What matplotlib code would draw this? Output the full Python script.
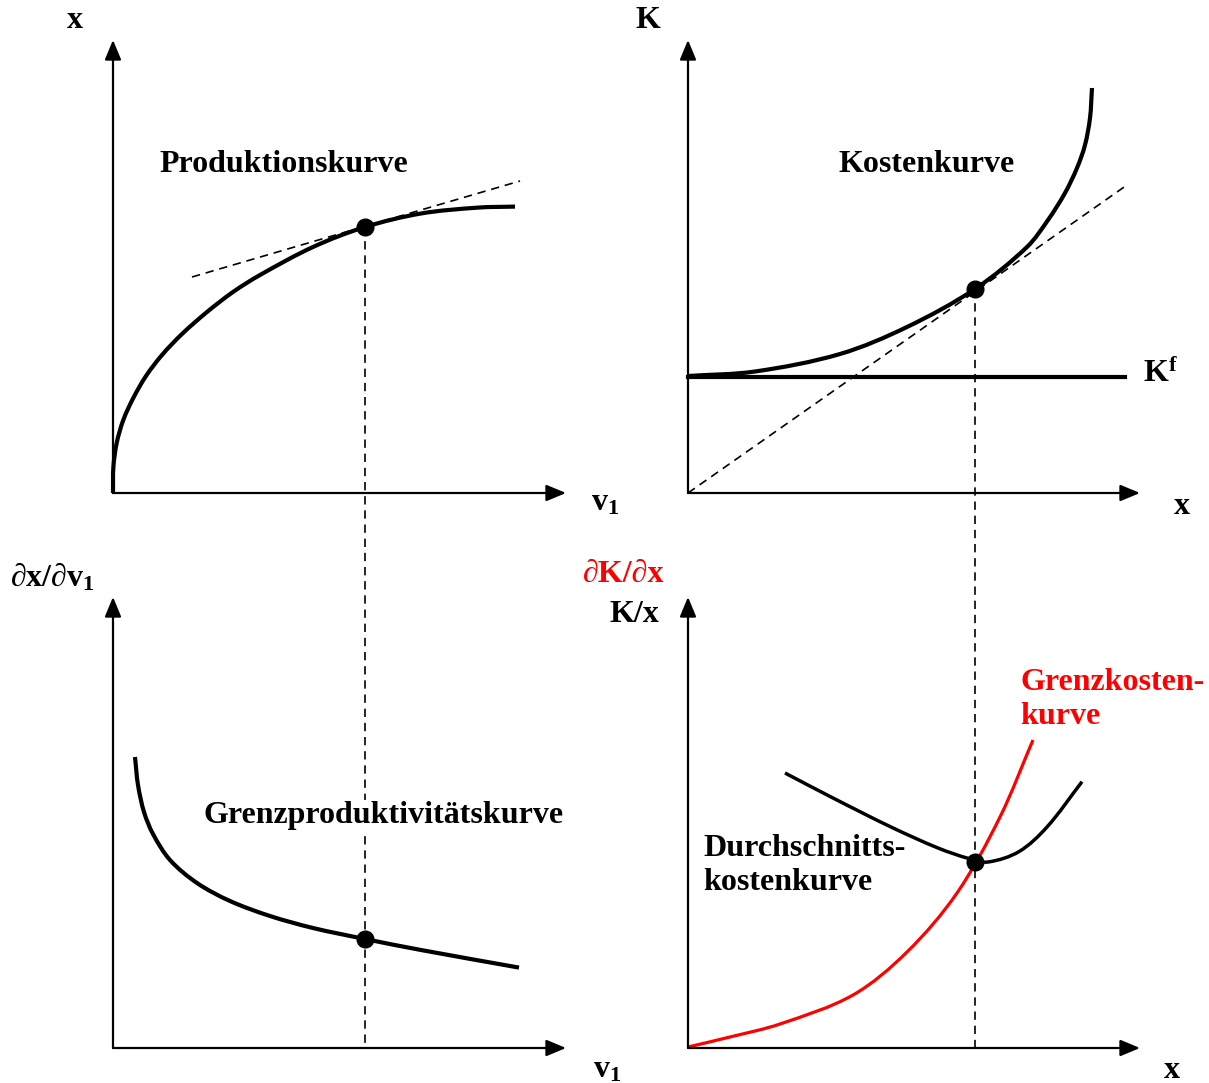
import matplotlib.pyplot as plt
from matplotlib.path import Path
from matplotlib.patches import PathPatch

plt.rcParams['font.family'] = ['Liberation Serif', 'DejaVu Serif']
plt.rcParams['mathtext.fontset'] = 'custom'
plt.rcParams['mathtext.rm'] = 'Liberation Serif:bold'
plt.rcParams['mathtext.it'] = 'Liberation Serif:bold'
plt.rcParams['mathtext.bf'] = 'Liberation Serif:bold'

# values (pixel units of the 1209x1083 sheet)
# top left: Produktionskurve
prod_x = [113, 113.4, 116.7, 123.3, 133.3, 146, 162, 182, 207, 233, 260, 313, 365, 421, 478, 515]
prod_y = [493, 467, 443, 420, 398, 376, 355, 334, 312, 292, 275, 247, 227, 213.5, 207.6, 206.6]
prod_tangent_x = [192, 520]
prod_tangent_y = [277, 181]
prod_point = (365, 227)

# top right: Kostenkurve
cost_x = [688, 755, 840, 907, 975, 1027, 1048, 1065, 1077, 1085, 1090, 1092]
cost_y = [376, 371.5, 354, 327, 289, 247, 220, 193, 168, 145, 118, 88]
fixcost_x = [688, 1125]
fixcost_y = [377, 377]
cost_ray_x = [688, 1127]
cost_ray_y = [493, 185]
cost_point = (975, 289)

# bottom left: Grenzproduktivitaetskurve
mp_x = [135, 138, 144, 153, 170, 197, 230, 270, 313, 365, 421, 519]
mp_y = [757, 785, 812, 834, 860, 883, 901, 916, 928, 939, 950, 967.6]
mp_point = (365, 939)

# bottom right: Grenzkosten (red) and Durchschnittskosten (black)
mc_x = [688, 730, 780, 853, 907, 957, 1000, 1033]
mc_y = [1047, 1037, 1024, 995, 952, 893, 817, 740]
ac_x = [785, 833, 891, 938, 969, 988, 1019, 1047, 1082]
ac_y = [773, 798, 827, 848, 858.6, 862, 851.6, 827, 781.7]
ac_point = (975, 862)

fig = plt.figure(figsize=(12.09, 10.83), dpi=100)
ax = fig.add_axes([0, 0, 1, 1])
ax.set_xlim(0, 1209)
ax.set_ylim(1083, 0)
ax.axis('off')


def axis_arrow(x0, y0, x1, y1):
    ax.annotate('', xy=(x1, y1), xytext=(x0, y0),
                arrowprops=dict(arrowstyle='-|>,head_length=1.2,head_width=0.5',
                                lw=1.6, color='black', shrinkA=0, shrinkB=0))


def smooth_curve(xs, ys, **kw):
    # cubic bezier through the read points, tangents from chord lengths
    n = len(xs)
    d = [((xs[i + 1] - xs[i]) ** 2 + (ys[i + 1] - ys[i]) ** 2) ** 0.5 for i in range(n - 1)]
    tang = []
    for i in range(n):
        if i == 0:
            tang.append(((xs[1] - xs[0]) / d[0], (ys[1] - ys[0]) / d[0]))
        elif i == n - 1:
            tang.append(((xs[i] - xs[i - 1]) / d[i - 1], (ys[i] - ys[i - 1]) / d[i - 1]))
        else:
            s = d[i - 1] + d[i]
            tang.append(((xs[i + 1] - xs[i - 1]) / s, (ys[i + 1] - ys[i - 1]) / s))
    verts = [(xs[0], ys[0])]
    codes = [Path.MOVETO]
    for i in range(n - 1):
        h = d[i] / 3
        verts += [(xs[i] + tang[i][0] * h, ys[i] + tang[i][1] * h),
                  (xs[i + 1] - tang[i + 1][0] * h, ys[i + 1] - tang[i + 1][1] * h),
                  (xs[i + 1], ys[i + 1])]
        codes += [Path.CURVE4] * 3
    ax.add_patch(PathPatch(Path(verts, codes), fill=False, capstyle='butt', **kw))


# axes of the four panels
for ox, oy, top, right in [(113, 493, 40, 566), (688, 493, 40, 1140),
                           (113, 1048, 597, 566), (688, 1048, 597, 1140)]:
    axis_arrow(ox, oy, ox, top)
    axis_arrow(ox, oy, right, oy)

dash = (0, (5, 3.5))
# vertical guide lines
ax.plot([prod_point[0], prod_point[0]], [prod_point[1], 1048], color='black', lw=1.2, ls=dash, zorder=1)
ax.plot([cost_point[0], cost_point[0]], [cost_point[1], 1048], color='black', lw=1.2, ls=dash, zorder=1)

# top left
ax.plot(prod_tangent_x, prod_tangent_y, color='black', lw=1.2, ls=dash)
smooth_curve(prod_x, prod_y, color='black', lw=3)
ax.plot(*prod_point, 'o', color='black', ms=12)

# top right
ax.plot(cost_ray_x, cost_ray_y, color='black', lw=1.2, ls=dash)
ax.plot(fixcost_x, fixcost_y, color='black', lw=3)
smooth_curve(cost_x, cost_y, color='black', lw=3)
ax.plot(*cost_point, 'o', color='black', ms=12)

# bottom left
smooth_curve(mp_x, mp_y, color='black', lw=3)
ax.plot(*mp_point, 'o', color='black', ms=12)

# bottom right
smooth_curve(ac_x, ac_y, color='black', lw=2.5)
smooth_curve(mc_x, mc_y, color='red', lw=2.3)
ax.plot(*ac_point, 'o', color='black', ms=12)

tk = dict(fontsize=23, fontweight='bold')
ax.text(75, 20, 'x', ha='center', va='center', **tk)
ax.text(605, 503, 'v$_1$', ha='center', va='center', **tk)
ax.text(648, 20, 'K', ha='center', va='center', **tk)
ax.text(1182, 507, 'x', ha='center', va='center', **tk)
ax.text(1160, 374, 'K$^{\\mathrm{f}}$', ha='center', va='center', **tk)
ax.text(52, 577, '∂x/∂v$_1$', ha='center', va='center', **tk)
ax.text(607, 1070, 'v$_1$', ha='center', va='center', **tk)
ax.text(624, 574, '∂K/∂x', ha='center', va='center', color='red', **tk)
ax.text(634, 614, 'K/x', ha='center', va='center', **tk)
ax.text(1172, 1070, 'x', ha='center', va='center', **tk)

ax.text(284, 165, 'Produktionskurve', ha='center', va='center', **tk)
ax.text(927, 165, 'Kostenkurve', ha='center', va='center', **tk)
ax.text(384, 816, 'Grenzproduktivitätskurve', ha='center', va='center', zorder=3,
        bbox=dict(facecolor='white', edgecolor='none', pad=1), **tk)
ax.text(703, 848, 'Durchschnitts-', ha='left', va='center', **tk)
ax.text(703, 883, 'kostenkurve', ha='left', va='center', **tk)
ax.text(1020, 682, 'Grenzkosten-', ha='left', va='center', color='red', **tk)
ax.text(1020, 716, 'kurve', ha='left', va='center', color='red', **tk)

fig.savefig('out.png', dpi=100)
